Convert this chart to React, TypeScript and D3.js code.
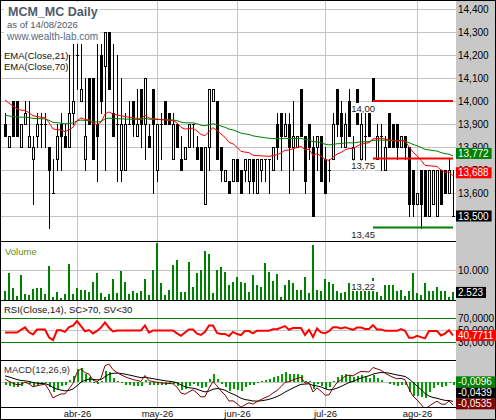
import * as d3 from 'd3';
import React from 'react';

// daily bars, 6 mar 2026 .. 14 aug 2026 (Madrid)
const opens = [
  13.9, 13.8, 14.0, 14.0, 13.8, 13.9, 13.8, 13.75, 13.85, 13.9,
  13.9, 13.8, 13.6, 13.75, 13.9, 13.85, 13.8, 13.95, 14.2, 14.0,
  13.75, 14.1, 14.1, 13.9, 14.2, 14.15, 14.3, 13.95, 13.9, 13.7,
  13.7, 13.9, 14.0, 13.85, 14.05, 13.9, 13.85, 14.05, 13.7, 13.9,
  14.0, 13.95, 13.75, 13.9, 13.75, 13.75, 13.8, 13.9, 13.8, 13.8,
  13.55, 13.8, 14.0, 14.0, 13.8, 13.65, 13.65, 13.65, 13.75, 13.7,
  13.7, 13.65, 13.75, 13.6, 13.7, 13.75, 13.75, 13.7, 13.9, 13.95,
  13.85, 13.9, 13.8, 13.8, 14.05, 13.85, 13.9, 13.8, 13.8, 13.85,
  13.75, 13.7, 13.75, 14.05, 13.95, 13.8, 14.0, 13.75, 14.05, 13.75,
  13.85, 13.95, 14.1, 13.75, 13.85, 13.7, 13.95, 13.9, 13.9, 13.8,
  13.85, 13.8, 13.7, 13.55, 13.7, 13.7, 13.5, 13.55, 13.5, 13.7,
  13.7, 13.6, 13.5,
];
const highs = [
  13.95, 13.85, 14.0, 14.0, 13.9, 14.0, 14.0, 13.85, 13.95, 13.95,
  13.95, 13.8, 13.75, 13.9, 13.95, 13.9, 14.2, 14.25, 14.25, 14.25,
  14.1, 14.1, 14.1, 14.25, 14.25, 14.3, 14.3, 14.25, 14.2, 14.1,
  13.95, 14.0, 14.0, 14.05, 14.05, 14.1, 13.9, 14.05, 13.9, 13.95,
  14.0, 13.95, 13.95, 13.9, 13.85, 13.8, 13.9, 13.9, 13.85, 13.8,
  13.8, 14.05, 14.05, 14.0, 13.8, 13.7, 13.65, 13.75, 13.75, 13.7,
  13.75, 13.75, 13.75, 13.75, 13.75, 13.75, 13.75, 13.8, 13.95, 13.95,
  13.95, 13.95, 14.0, 13.85, 14.05, 13.85, 13.9, 13.85, 13.85, 13.85,
  13.8, 13.75, 13.95, 14.05, 14.0, 13.95, 14.05, 13.85, 14.05, 13.95,
  13.95, 13.95, 14.1, 13.9, 13.9, 13.85, 13.95, 13.9, 13.9, 13.85,
  13.85, 13.8, 13.7, 13.6, 13.7, 13.7, 13.7, 13.7, 13.7, 13.7,
  13.7, 13.75, 13.7,
];
const lows = [
  13.85, 13.8, 13.85, 13.85, 13.8, 13.9, 13.8, 13.55, 13.8, 13.8,
  13.8, 13.45, 13.6, 13.7, 13.7, 13.8, 13.8, 13.9, 14.05, 14.0,
  13.7, 13.9, 13.75, 13.65, 13.95, 13.7, 14.05, 13.85, 13.65, 13.65,
  13.7, 13.9, 13.85, 13.85, 13.8, 13.75, 13.8, 13.6, 13.65, 13.75,
  13.9, 13.9, 13.75, 13.8, 13.7, 13.75, 13.8, 13.8, 13.75, 13.7,
  13.55, 13.7, 14.0, 13.75, 13.65, 13.65, 13.6, 13.65, 13.65, 13.6,
  13.65, 13.6, 13.6, 13.6, 13.65, 13.65, 13.6, 13.7, 13.75, 13.7,
  13.85, 13.6, 13.7, 13.8, 13.85, 13.6, 13.75, 13.5, 13.7, 13.65,
  13.6, 13.65, 13.75, 13.85, 13.8, 13.8, 13.85, 13.7, 13.9, 13.7,
  13.7, 13.85, 14.0, 13.75, 13.7, 13.7, 13.8, 13.8, 13.75, 13.8,
  13.75, 13.5, 13.5, 13.55, 13.45, 13.5, 13.5, 13.55, 13.5, 13.55,
  13.6, 13.6, 13.5,
];
const closes = [
  13.85, 13.85, 13.85, 13.85, 13.9, 13.95, 13.85, 13.8, 13.9, 13.9,
  13.9, 13.7, 13.6, 13.85, 13.85, 13.8, 13.95, 14.0, 14.2, 14.05,
  13.85, 13.9, 13.75, 13.85, 14.0, 14.3, 14.05, 13.85, 13.9, 13.9,
  13.9, 13.9, 13.9, 13.9, 13.9, 14.1, 13.8, 13.9, 13.9, 13.9,
  13.9, 13.9, 13.9, 13.8, 13.7, 13.8, 13.9, 13.9, 13.75, 13.7,
  13.8, 14.05, 14.05, 13.75, 13.7, 13.7, 13.6, 13.75, 13.65, 13.6,
  13.75, 13.75, 13.65, 13.75, 13.75, 13.75, 13.75, 13.8, 13.8, 13.85,
  13.9, 13.8, 13.85, 13.85, 13.85, 13.65, 13.8, 13.5, 13.85, 13.65,
  13.6, 13.7, 13.9, 13.9, 13.85, 13.9, 13.85, 13.8, 13.9, 13.9,
  13.85, 13.85, 14.0, 13.85, 13.85, 13.8, 13.8, 13.8, 13.8, 13.85,
  13.8, 13.55, 13.55, 13.6, 13.55, 13.5, 13.7, 13.7, 13.7, 13.55,
  13.6, 13.7, 13.5,
];
const volumes = [
  3000, 8900, 3900, 1330, 8330, 1900, 1700, 3570, 3900, 3900,
  2000, 11330, 1100, 2700, 560, 2000, 12000, 2000, 3900, 3330,
  3330, 2700, 6100, 8900, 2440, 1100, 2000, 7000, 2200, 9700,
  6000, 2000, 3000, 2440, 3000, 7000, 1550, 10000, 19100, 5560,
  1700, 3330, 11700, 13300, 2700, 2700, 12700, 4440, 8900, 10000,
  16300, 15300, 2440, 10000, 11100, 9400, 5000, 6100, 7550, 6100,
  5800, 2800, 8330, 5000, 4440, 12440, 9440, 6440, 8560, 1100,
  5000, 6670, 5560, 3330, 3330, 7770, 2440, 18330, 3330, 3100,
  7000, 6000, 5330, 3000, 2220, 2800, 5800, 4200, 3600, 6100,
  3900, 4800, 7200, 2800, 1330, 5000, 5000, 5000, 3100, 3330,
  1330, 3100, 9100, 2220, 1670, 5800, 3100, 3100, 4440, 3100,
  3100, 1100, 2523,
];

const months = ['abr-26', 'may-26', 'jun-26', 'jul-26', 'ago-26'];
const monthStartBar = [18, 38, 58, 80, 103];

const priceTicks = [14.4, 14.3, 14.2, 14.1, 14.0, 13.9, 13.8, 13.7, 13.6, 13.5];
const volumeTicks = [10000];
const rsiTicks = [70, 50, 30];
const macdTicks = [0];

// support / resistance drawn from this bar to the end
const levelStartBar = 92;
const levels = [14.0, 13.75, 13.45];
const volumeNote = 13.22;

const ema21Start = 14.02;
const ema70Start = 13.94;
const ema12Start = 13.93;
const ema26Start = 13.915;
const signalStart = 0.017;
const rsiPrevClose = 13.9;
const rsiAvgGainStart = 0.026;
const rsiAvgLossStart = 0.027;

// last values printed in the right hand axis
const lastEma70 = 13.772;
const lastEma21 = 13.688;
const lastClose = 13.5;
const lastVolume = 2523;
const lastRsi = 40.7711;
const lastHist = -0.0096;
const lastSignal = -0.0439;
const lastMacd = -0.0535;

const loc = d3.formatLocale({
  decimal: ',',
  thousands: '.',
  grouping: [3],
  currency: ['', ''],
  minus: '-',
});
const fPrice = loc.format('.3f');
const fLevel = loc.format('.2f');
const fVol = loc.format(',.0f');
const fInd = loc.format('.4f');

const ema = (vals: number[], period: number, start: number) => {
  const k = 2 / (period + 1);
  let prev = start;
  return vals.map(v => (prev = prev + k * (v - prev)));
};

const rsiCalc = (vals: number[]) => {
  let g = rsiAvgGainStart;
  let l = rsiAvgLossStart;
  let prev = rsiPrevClose;
  return vals.map(v => {
    const d = v - prev;
    prev = v;
    g = (g * 13 + Math.max(d, 0)) / 14;
    l = (l * 13 + Math.max(-d, 0)) / 14;
    return 100 - 100 / (1 + g / l);
  });
};

const FONT = "'Liberation Sans', Arial, sans-serif";
const FS = 9.5; // small label size
const AX = 10; // value axis size
const PLOT_R = 456;
const GRID = '#c4c4c4';

const ema21 = ema(closes, 21, ema21Start);
const ema70 = ema(closes, 70, ema70Start);
const e12 = ema(closes, 12, ema12Start);
const e26 = ema(closes, 26, ema26Start);
const macd = e12.map((v, i) => v - e26[i]);
const signal = ema(macd, 9, signalStart);
const hist = macd.map((v, i) => v - signal[i]);
const rsi = rsiCalc(closes);

// rough Arial advance widths, in em
const textWidth = (s: string, size: number) =>
  size * s.split('').reduce((w, ch) => w + (/[0-9]/.test(ch) ? 0.556 : ch === '-' ? 0.333 : 0.278), 0);

const AxisBox = ({ y, text, fill }: { y: number; text: string; fill: string }) => (
  <g>
    <rect x={PLOT_R} y={y - 5.5} width={textWidth(text, AX) + 5} height={11} fill={fill} />
    <text x={PLOT_R + 2} y={y + 3.5} fill="#fff" fontSize={AX} fontFamily={FONT}>
      {text}
    </text>
  </g>
);

const App = () => {
  const x = d3.scaleLinear().domain([0, closes.length - 1]).range([5, 453]);
  const yP = d3.scaleLinear().domain([13.5, 14.4]).range([216, 9]);
  const yV = d3.scaleLinear().domain([0, 10000]).range([300, 270]);
  const yR = d3.scaleLinear().domain([0, 100]).range([360, 300]);
  const yM = d3.scaleLinear().domain([0, 0.05]).range([382, 361.6]);

  const line = (vals: number[], y: d3.ScaleLinear<number, number>) =>
    d3
      .line<number>()
      .x((_, i) => x(i))
      .y(d => y(d))(vals) || '';

  // stack the MACD boxes upward so they do not cover each other
  const macdBoxes = [
    { v: lastMacd, fill: '#800000' },
    { v: lastSignal, fill: '#000' },
    { v: lastHist, fill: '#008000' },
  ];
  let limit = 404;
  const macdBoxY = macdBoxes.map(b => {
    const y0 = Math.min(yM(b.v), limit);
    limit = y0 - 11;
    return y0;
  });

  const lx = x(levelStartBar);
  const round = (v: number) => Math.round(v) + 0.5;

  return (
    <svg width={496} height={420} style={{ position: 'fixed', left: 0, top: 0, background: '#fff' }}>
      <defs>
        <clipPath id="cp"><rect x={0} y={0} width={PLOT_R} height={241} /></clipPath>
        <clipPath id="cv"><rect x={0} y={241} width={PLOT_R} height={59} /></clipPath>
        <clipPath id="cr"><rect x={0} y={300} width={PLOT_R} height={60} /></clipPath>
        <clipPath id="cm"><rect x={0} y={360} width={PLOT_R} height={47} /></clipPath>
        <clipPath id="cax"><rect x={PLOT_R} y={0} width={40} height={420} /></clipPath>
      </defs>
      <rect x={PLOT_R} y={0} width={40} height={420} fill="#c8c8c8" />

      {/* grid */}
      <g stroke={GRID} strokeWidth={1} shapeRendering="crispEdges">
        {monthStartBar.map((b, k) => (
          <line key={'m' + k} x1={x(b) + 0.5} x2={x(b) + 0.5} y1={0} y2={407} />
        ))}
        {priceTicks.map(t => (
          <line key={'p' + t} x1={0} x2={PLOT_R} y1={round(yP(t))} y2={round(yP(t))} />
        ))}
        {volumeTicks.map(t => (
          <line key={'v' + t} x1={0} x2={PLOT_R} y1={round(yV(t))} y2={round(yV(t))} />
        ))}
        <line x1={0} x2={PLOT_R} y1={round(yR(50))} y2={round(yR(50))} />
        {macdTicks.map(t => (
          <line key={'d' + t} x1={0} x2={PLOT_R} y1={round(yM(t))} y2={round(yM(t))} />
        ))}
      </g>

      {/* price panel */}
      <g clipPath="url(#cp)" shapeRendering="crispEdges">
        {closes.map((c, i) => {
          const cx = x(i);
          const o = opens[i];
          const top = Math.round(yP(Math.max(o, c)));
          const bot = Math.round(yP(Math.min(o, c)));
          return (
            <g key={i}>
              <line x1={cx + 0.5} x2={cx + 0.5} y1={Math.round(yP(highs[i]))} y2={Math.round(yP(lows[i])) + 1} stroke="#000" />
              {top === bot ? (
                <line x1={cx - 1} x2={cx + 2} y1={top + 0.5} y2={top + 0.5} stroke="#000" />
              ) : (
                <rect
                  x={cx - 0.5}
                  y={top + 0.5}
                  width={2}
                  height={bot - top}
                  fill={c < o ? '#000' : '#fff'}
                  stroke="#000"
                />
              )}
            </g>
          );
        })}
      </g>
      <g clipPath="url(#cp)" fill="none">
        <path d={line(ema70, yP)} stroke="#008000" strokeWidth={1} />
        <path d={line(ema21, yP)} stroke="#ff0000" strokeWidth={1} />
        {levels.map((lv, k) => (
          <line
            key={lv}
            x1={lx}
            x2={x(closes.length - 1)}
            y1={yP(lv)}
            y2={yP(lv)}
            stroke={k === 2 ? '#008000' : '#ff0000'}
            strokeWidth={2}
          />
        ))}
      </g>
      <g fontFamily={FONT} fontSize={FS} fill="#222">
        {levels.map(lv => (
          <g key={lv}>
            <rect x={lx - 22} y={yP(lv) + 2} width={24} height={10} fill="#fff" />
            <text x={lx + 2} y={yP(lv) + 10.5} textAnchor="end">{fLevel(lv)}</text>
          </g>
        ))}
      </g>

      {/* header */}
      <g fontFamily={FONT}>
        <rect x={4} y={2} width={96} height={40} fill="#fff" />
        <rect x={2} y={49} width={65} height={22} fill="#fff" />
        <text x={8} y={16} fontSize={12.5} fontWeight="bold" fill="#4f5a6b">MCM_MC Daily</text>
        <text x={7} y={28} fontSize={9.5} fill="#4d5766">as of 14/08/2026</text>
        <text x={7} y={40} fontSize={10} fill="#5a6a80">www.wealth-lab.com</text>
        <text x={4} y={59} fontSize={FS} fill="#111">EMA(Close,21)</text>
        <text x={4} y={70} fontSize={FS} fill="#111">EMA(Close,70)</text>
      </g>

      {/* volume panel */}
      <g clipPath="url(#cv)" fill="#008000" shapeRendering="crispEdges">
        {volumes.map((v, i) => (
          <rect key={i} x={x(i) - 1} y={yV(v)} width={2} height={300 - yV(v)} />
        ))}
      </g>
      <g fontFamily={FONT} fontSize={FS}>
        <rect x={lx - 22} y={281} width={24} height={10} fill="#fff" />
        <text x={lx + 2} y={290} textAnchor="end" fill="#222">{fLevel(volumeNote)}</text>
        <text x={5} y={255} fill="#5f8a10">Volume</text>
      </g>

      {/* RSI panel */}
      <g clipPath="url(#cr)">
        <line x1={0} x2={PLOT_R} y1={round(yR(70))} y2={round(yR(70))} stroke="#008000" shapeRendering="crispEdges" />
        <line x1={0} x2={PLOT_R} y1={round(yR(30))} y2={round(yR(30))} stroke="#008000" shapeRendering="crispEdges" />
        <path d={line(rsi, yR)} fill="none" stroke="#ff0000" strokeWidth={2} />
      </g>
      <text x={4} y={313} fontFamily={FONT} fontSize={FS} fill="#111">RSI(Close,14), SC&gt;70, SV&lt;30</text>

      {/* MACD panel */}
      <g clipPath="url(#cm)">
        <g fill="#00a000" shapeRendering="crispEdges">
          {hist.map((h, i) => (
            <rect key={i} x={x(i) - 0.5} y={Math.min(yM(0), yM(h))} width={2} height={Math.abs(yM(h) - yM(0))} />
          ))}
        </g>
        <path d={line(signal, yM)} fill="none" stroke="#000" strokeWidth={1} />
        <path d={line(macd, yM)} fill="none" stroke="#800000" strokeWidth={1} />
      </g>
      <text x={4} y={373} fontFamily={FONT} fontSize={FS} fill="#333">MACD(12,26,9)</text>

      {/* panel frames */}
      <g stroke="#000" strokeWidth={1} shapeRendering="crispEdges">
        {[241, 300, 360, 407].map(y => (
          <line key={y} x1={0} x2={PLOT_R} y1={y + 0.5} y2={y + 0.5} />
        ))}
        <rect x={0.5} y={0.5} width={495} height={419} fill="none" />
      </g>

      {/* date axis */}
      <g fontFamily={FONT} fontSize={FS} fill="#111" textAnchor="middle">
        {months.map((m, k) => (
          <text key={m} x={x(monthStartBar[k]) + 0.5} y={417}>{m}</text>
        ))}
      </g>

      {/* value axis */}
      <g clipPath="url(#cax)" fontFamily={FONT} fontSize={AX} fill="#000">
        {priceTicks.map(t => (
          <text key={t} x={PLOT_R + 2} y={yP(t) + 3.5}>{fPrice(t)}</text>
        ))}
        {volumeTicks.map(t => (
          <text key={t} x={PLOT_R + 2} y={yV(t) + 3.5}>{fVol(t)}</text>
        ))}
        {rsiTicks.map(t => (
          <text key={t} x={PLOT_R + 2} y={yR(t) + 3.5}>{fInd(t)}</text>
        ))}
        {macdTicks.map(t => (
          <text key={t} x={PLOT_R + 2} y={yM(t) + 3.5}>{fInd(t)}</text>
        ))}
        <AxisBox y={yP(lastEma70)} text={fPrice(lastEma70)} fill="#008000" />
        <AxisBox y={yP(lastEma21)} text={fPrice(lastEma21)} fill="#ff0000" />
        <AxisBox y={yP(lastClose)} text={fPrice(lastClose)} fill="#000" />
        <AxisBox y={yV(lastVolume)} text={fVol(lastVolume)} fill="#000" />
        <AxisBox y={yR(lastRsi)} text={fInd(lastRsi)} fill="#ff0000" />
        {macdBoxes.map((b, k) => (
          <AxisBox key={k} y={macdBoxY[k]} text={fInd(b.v)} fill={b.fill} />
        ))}
      </g>
    </svg>
  );
};

export default App;
